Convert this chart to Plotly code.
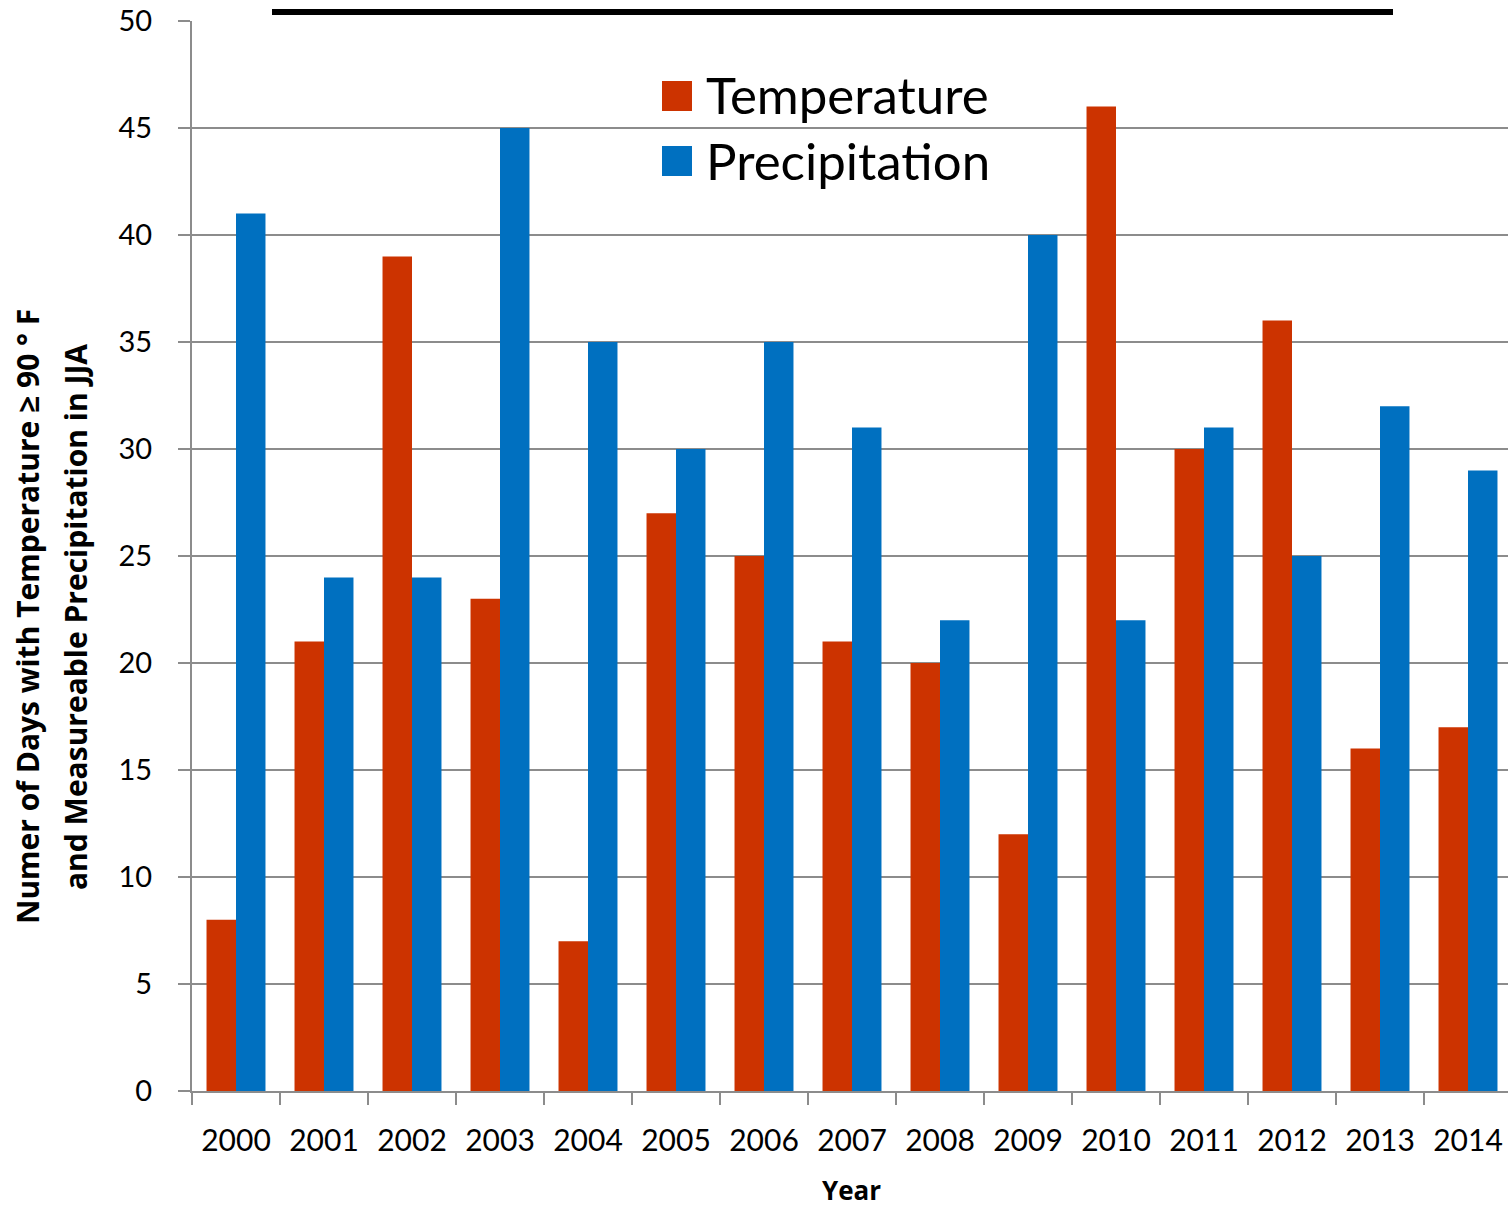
import plotly.graph_objects as go

years = [str(y) for y in range(2000, 2015)]
temperature = [8, 21, 39, 23, 7, 27, 25, 21, 20, 12, 46, 30, 36, 16, 17]
precipitation = [41, 24, 24, 45, 35, 30, 35, 31, 22, 40, 22, 31, 25, 32, 29]

RED = "#CC3300"
BLUE = "#0070C0"
FONT = "Lato"
TFONT = "Open Sans"

W, H = 1508, 1208
L, R, T, B = 192, 0, 21, 117

fig = go.Figure()
fig.add_trace(go.Bar(x=years, y=temperature, name="Temperature", marker_color=RED,
                     marker_line_width=0, showlegend=False))
fig.add_trace(go.Bar(x=years, y=precipitation, name="Precipitation", marker_color=BLUE,
                     marker_line_width=0, showlegend=False))

def px_x(x):
    return (x - L) / (W - L - R)

def px_y(y):
    return 1 - (y - T) / (H - T - B)

shapes = []
# title underline (title text cropped off in reference)
shapes.append(dict(type="rect", xref="paper", yref="paper",
                   x0=px_x(272), x1=px_x(1393), y0=px_y(15), y1=px_y(9),
                   fillcolor="black", line_width=0, layer="above"))
# legend squares
shapes.append(dict(type="rect", xref="paper", yref="paper",
                   x0=px_x(662), x1=px_x(692), y0=px_y(111), y1=px_y(81),
                   fillcolor=RED, line_width=0))
shapes.append(dict(type="rect", xref="paper", yref="paper",
                   x0=px_x(662), x1=px_x(692), y0=px_y(176), y1=px_y(146),
                   fillcolor=BLUE, line_width=0))

annotations = [
    dict(text="Temperature", xref="paper", yref="paper", x=px_x(704), y=px_y(95),
         xanchor="left", yanchor="middle", showarrow=False,
         font=dict(family=FONT, size=51, color="black")),
    dict(text="Precipitation", xref="paper", yref="paper", x=px_x(704), y=px_y(160),
         xanchor="left", yanchor="middle", showarrow=False,
         font=dict(family=FONT, size=51, color="black")),
    dict(text="<b>Numer of Days with Temperature ≥ 90 ° F</b>", xref="paper", yref="paper",
         x=px_x(27), y=px_y(617), xanchor="center", yanchor="middle", textangle=-90,
         showarrow=False, font=dict(family=TFONT, size=30, color="black")),
    dict(text="<b>and Measureable Precipitation in JJA</b>", xref="paper", yref="paper",
         x=px_x(75), y=px_y(617), xanchor="center", yanchor="middle", textangle=-90,
         showarrow=False, font=dict(family=TFONT, size=30, color="black")),
    dict(text="<b>Year</b>", xref="paper", yref="paper",
         x=px_x(851), y=px_y(1190), xanchor="center", yanchor="middle",
         showarrow=False, font=dict(family=TFONT, size=26, color="black")),
]

fig.update_layout(
    width=W, height=H,
    margin=dict(l=L, r=R, t=T, b=B, pad=0),
    paper_bgcolor="white", plot_bgcolor="white",
    barmode="group", bargap=0.33, bargroupgap=0,
    shapes=shapes, annotations=annotations,
    showlegend=False,
    font=dict(family=FONT, color="black"),
)
fig.update_xaxes(
    type="category", range=[-0.5, 14.5 - 4 / 88],
    tickson="boundaries", ticks="outside", ticklen=12, tickcolor="#8C8C8C", tickwidth=2,
    showline=True, linecolor="#8C8C8C", linewidth=2,
    showgrid=False, tickfont=dict(family=FONT, size=30, color="black"),
    ticklabelstandoff=22,
)
fig.update_yaxes(
    range=[0, 50], dtick=5, tick0=0,
    showgrid=True, gridcolor="#8C8C8C", gridwidth=1.5,
    ticks="outside", ticklen=12, tickcolor="#8C8C8C", tickwidth=2,
    showline=True, linecolor="#8C8C8C", linewidth=2,
    zeroline=False,
    tickfont=dict(family=FONT, size=29, color="black"),
    ticklabelstandoff=20,
)

fig.write_html("out.html", config={"displayModeBar": False},
               post_script="document.body.style.margin='0';document.body.style.overflow='hidden';")
